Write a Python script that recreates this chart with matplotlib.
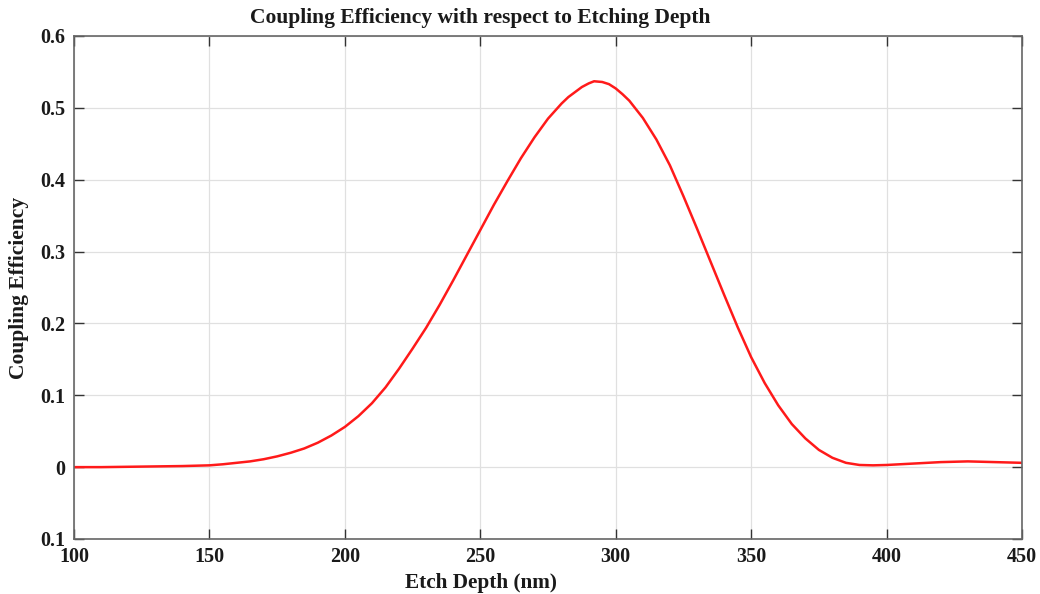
"""Coupling efficiency vs etch depth."""

import matplotlib
matplotlib.use("Agg")
import matplotlib.pyplot as plt

# Etch depth (nm) and coupling efficiency
etch_depth = [100, 110, 120, 130, 140, 150, 155, 160, 165, 170, 175, 180,
              185, 190, 195, 200, 205, 210, 215, 220, 225, 230, 235, 240,
              245, 250, 255, 260, 265, 270, 275, 280, 282.5, 285, 287.5,
              290, 292, 295, 297.5, 300, 302.5, 305, 310, 315, 320, 325,
              330, 335, 340, 345, 350, 355, 360, 365, 370, 375, 380, 385,
              390, 395, 400, 410, 420, 430, 440, 450]
efficiency = [0.000, 0.000, 0.0005, 0.001, 0.0015, 0.0025, 0.004, 0.006,
              0.008, 0.011, 0.015, 0.020, 0.026, 0.034, 0.044, 0.056, 0.071,
              0.089, 0.111, 0.137, 0.165, 0.194, 0.226, 0.260, 0.295, 0.330,
              0.365, 0.398, 0.430, 0.459, 0.485, 0.506, 0.515, 0.522, 0.529,
              0.534, 0.537, 0.536, 0.533, 0.527, 0.519, 0.510, 0.486, 0.456,
              0.420, 0.377, 0.332, 0.286, 0.240, 0.195, 0.153, 0.117, 0.086,
              0.060, 0.040, 0.024, 0.013, 0.006, 0.003, 0.0025, 0.003, 0.005,
              0.007, 0.008, 0.007, 0.006]

x_ticks = [100, 150, 200, 250, 300, 350, 400, 450]
y_ticks = [-0.1, 0, 0.1, 0.2, 0.3, 0.4, 0.5, 0.6]
y_tick_labels = ["0.1", "0", "0.1", "0.2", "0.3", "0.4", "0.5", "0.6"]

plt.rcParams["font.family"] = ["Liberation Serif", "DejaVu Serif"]
plt.rcParams["font.weight"] = "bold"

fig = plt.figure(figsize=(10.4, 5.94), dpi=100)
ax = fig.add_axes([0.0712, 0.0926, 0.9115, 0.8468])

ax.plot(etch_depth, efficiency, color="#ff1a1a", linewidth=1.8)

ax.set_xlim(100, 450)
ax.set_ylim(-0.1, 0.6)
ax.set_xticks(x_ticks)
ax.set_yticks(y_ticks)
ax.set_yticklabels(y_tick_labels)
ax.grid(True, color="#e0e0e0", linewidth=0.9)
ax.tick_params(direction="in", length=7, width=1.0, color="#333333",
               labelsize=14.5, top=True, right=True, pad=6,
               labelcolor="#1a1a1a")
for label in ax.get_xticklabels() + ax.get_yticklabels():
    label.set_fontweight("bold")
for spine in ax.spines.values():
    spine.set_color("#666666")
    spine.set_linewidth(1.2)

# title and x label sit left of the axes centre in the original
fig.text(0.4615, 0.969, "Coupling Efficiency with respect to Etching Depth",
         ha="center", va="center", fontsize=15.5, fontweight="bold",
         color="#1a1a1a")
fig.text(0.4625, 0.019, "Etch Depth (nm)", ha="center", va="center",
         fontsize=15.3, fontweight="bold", color="#1a1a1a")
ax.set_ylabel("Coupling Efficiency", fontsize=15.5, fontweight="bold",
              labelpad=8, color="#1a1a1a")

plt.savefig("out.png", dpi=100)
plt.close()
